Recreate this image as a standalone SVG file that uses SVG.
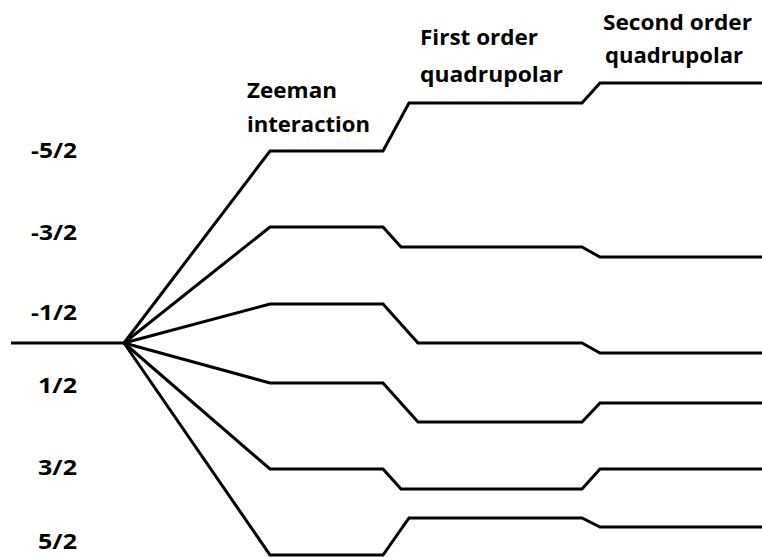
<svg xmlns="http://www.w3.org/2000/svg" width="762" height="557" viewBox="0 0 762 557">
<style>
.ln{fill:none;stroke:#000;stroke-width:3;stroke-linejoin:miter;stroke-linecap:butt}
.t{font-family:"Open Sans","Liberation Sans",sans-serif;font-weight:700;font-size:22px;fill:#000}
</style>
<rect width="762" height="557" fill="#fff"/>
<g id="labels">
<text class="t" x="31" y="158" textLength="46" lengthAdjust="spacingAndGlyphs">-5/2</text>
<text class="t" x="31" y="240" textLength="46" lengthAdjust="spacingAndGlyphs">-3/2</text>
<text class="t" x="31" y="320" textLength="46" lengthAdjust="spacingAndGlyphs">-1/2</text>
<text class="t" x="38" y="393" textLength="39" lengthAdjust="spacingAndGlyphs">1/2</text>
<text class="t" x="38" y="475" textLength="39" lengthAdjust="spacingAndGlyphs">3/2</text>
<text class="t" x="38" y="549" textLength="39" lengthAdjust="spacingAndGlyphs">5/2</text>
</g>
<g id="headings">
<text class="t" x="247" y="98" textLength="90" lengthAdjust="spacingAndGlyphs">Zeeman</text>
<text class="t" x="247" y="132" textLength="123" lengthAdjust="spacingAndGlyphs">interaction</text>
<text class="t" x="420" y="45" textLength="118" lengthAdjust="spacingAndGlyphs">First order</text>
<text class="t" x="420" y="82" textLength="143" lengthAdjust="spacingAndGlyphs">quadrupolar</text>
<text class="t" x="603" y="30" textLength="149" lengthAdjust="spacingAndGlyphs">Second order</text>
<text class="t" x="605" y="63" textLength="138" lengthAdjust="spacingAndGlyphs">quadrupolar</text>
</g>
<g id="levels">
<path id="ground" class="ln" d="M11,343 H124"/>
<path id="m-5_2" class="ln" d="M124,343 L270,151 H383 L409,103 H582 L600,83 H762"/>
<path id="m-3_2" class="ln" d="M124,343 L270,227 H383 L401,247 H582 L600,257 H762"/>
<path id="m-1_2" class="ln" d="M124,343 L270,304 H383 L418,343 H582 L600,353 H762"/>
<path id="m1_2" class="ln" d="M124,343 L270,383 H383 L418,422 H582 L600,403 H762"/>
<path id="m3_2" class="ln" d="M124,343 L270,469 H383 L401,489 H582 L600,469 H762"/>
<path id="m5_2" class="ln" d="M124,343 L270,555 H383 L409,518 H582 L600,527 H762"/>
</g>
</svg>
